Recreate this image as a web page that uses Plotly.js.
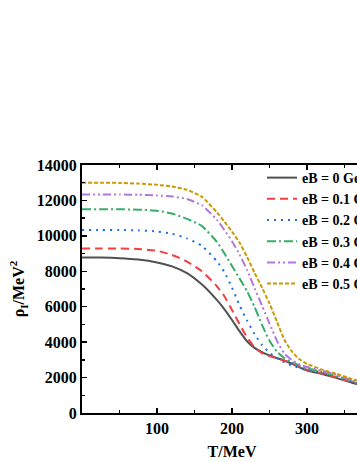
<!DOCTYPE html>
<html>
<head>
<meta charset="utf-8">
<script src="https://cdn.plot.ly/plotly-3.0.1.min.js"></script>
<style>
  html, body { margin: 0; padding: 0; overflow: hidden; background: #fff; }
  #chart { width: 420px; height: 462px; }
</style>
</head>
<body>
<div id="chart"></div>
<script>
// temperature grid (MeV)
const T = [0, 25, 50, 75, 100, 120, 140, 160, 180, 190, 200, 210, 220, 230, 240,
           250, 260, 270, 280, 290, 300, 320, 340, 360, 380, 400];

// rho_I, one array per field strength
const eB0  = [8780, 8775, 8740, 8660, 8500, 8280, 7900, 7250, 6370, 5850, 5250, 4620, 4050, 3680, 3440,
              3250, 3100, 2950, 2780, 2580, 2400, 2200, 1970, 1710, 1510, 1360];
const eB01 = [9290, 9290, 9285, 9260, 9160, 8920, 8550, 8000, 7150, 6580, 5820, 5020, 4280, 3720, 3380,
              3210, 3090, 2960, 2800, 2610, 2440, 2240, 2000, 1730, 1530, 1380];
const eB02 = [10330, 10330, 10330, 10310, 10250, 10120, 9860, 9430, 8560, 7950, 7080, 6080, 5220, 4460, 3840,
              3400, 3090, 2860, 2670, 2560, 2470, 2280, 2040, 1770, 1570, 1410];
const eB03 = [11500, 11500, 11500, 11480, 11420, 11260, 10960, 10550, 9650, 9000, 8300, 7600, 6880, 6000, 4980,
              4080, 3460, 3090, 2860, 2690, 2530, 2320, 2080, 1810, 1600, 1440];
const eB04 = [12330, 12330, 12330, 12320, 12280, 12220, 12080, 11720, 10900, 10320, 9700, 8950, 8080, 7060, 6060,
              5050, 4070, 3340, 2990, 2740, 2600, 2380, 2140, 1850, 1640, 1470];
const eB05 = [13000, 13000, 12990, 12950, 12880, 12780, 12600, 12200, 11320, 10800, 10240, 9620, 8820, 7920, 7080,
              6180, 5150, 4120, 3460, 3030, 2780, 2450, 2200, 1920, 1700, 1520];

const names  = ['eB = 0 GeV<sup>2</sup>', 'eB = 0.1 GeV<sup>2</sup>', 'eB = 0.2 GeV<sup>2</sup>',
                'eB = 0.3 GeV<sup>2</sup>', 'eB = 0.4 GeV<sup>2</sup>', 'eB = 0.5 GeV<sup>2</sup>'];
const series = [eB0, eB01, eB02, eB03, eB04, eB05];
const colors = ['#515151', '#F14040', '#1A6FDF', '#37AD6B', '#B177DE', '#CC9900'];
const dashes = ['solid', '8px,5px', '2px,5px', '9px,3px,2px,3px', '8px,3px,2px,3px,2px,3px', '4px,2px'];

const data = series.map((y, i) => ({
  x: T,
  y: y,
  type: 'scatter',
  mode: 'lines',
  name: names[i],
  line: { color: colors[i], width: 2, dash: dashes[i], shape: 'spline', smoothing: 0.5 }
}));

const serif = 'Liberation Serif, Times New Roman, serif';

const layout = {
  width: 420,
  height: 462,
  margin: { l: 82, r: 38, t: 165, b: 49 },
  paper_bgcolor: '#fff',
  plot_bgcolor: '#fff',
  showlegend: true,
  legend: {
    x: 0.6, y: 1.012, xanchor: 'left', yanchor: 'top',
    bgcolor: 'rgba(0,0,0,0)',
    font: { family: serif, size: 14, color: '#000', weight: 'bold' },
    itemwidth: 30,
    tracegroupgap: 0
  },
  xaxis: {
    range: [0, 400],
    tickvals: [100, 200, 300, 400],
    ticks: 'inside', ticklen: 5, tickwidth: 1.5, tickcolor: '#000',
    minor: { dtick: 50, tick0: 0, ticks: 'inside', ticklen: 3, tickwidth: 1.5, tickcolor: '#000' },
    showline: true, linewidth: 2, linecolor: '#000', mirror: 'ticks',
    showgrid: false, zeroline: false,
    tickfont: { family: serif, size: 16, color: '#000', weight: 'bold' },
    title: { text: 'T/MeV', font: { family: serif, size: 16, color: '#000', weight: 'bold' }, standoff: 10 }
  },
  yaxis: {
    range: [0, 14000],
    dtick: 2000,
    tickformat: 'd',
    ticks: 'inside', ticklen: 5, tickwidth: 1.5, tickcolor: '#000',
    minor: { dtick: 1000, ticks: 'inside', ticklen: 3, tickwidth: 1.5, tickcolor: '#000' },
    showline: true, linewidth: 2, linecolor: '#000', mirror: 'ticks',
    showgrid: false, zeroline: false,
    tickfont: { family: serif, size: 16, color: '#000', weight: 'bold' },
    title: { text: 'ρ<sub>I</sub>/MeV<sup>2</sup>', font: { family: serif, size: 16, color: '#000', weight: 'bold' }, standoff: 8 }
  }
};

Plotly.newPlot('chart', data, layout, { displayModeBar: false, staticPlot: true });
</script>
</body>
</html>
